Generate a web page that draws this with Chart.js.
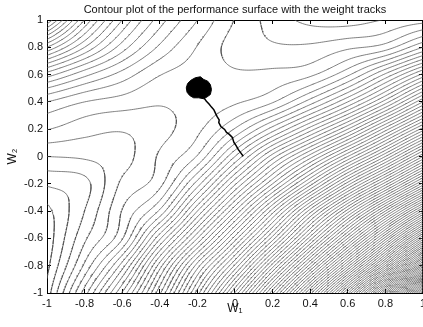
<!DOCTYPE html>
<html>
<head>
<meta charset="utf-8">
<script src="https://cdn.jsdelivr.net/npm/chart.js@4.4.1/dist/chart.umd.min.js"></script>
<style>
  html, body { margin: 0; padding: 0; background: #fff; overflow: hidden; }
</style>
</head>
<body>
<canvas id="surface" width="434" height="327"></canvas>
<script>
// performance surface, one value per grid node
// (counted in contour steps, rows go from w2 = 1 down to w2 = -1)
const w1Nodes = [-1, -0.8, -0.6, -0.4, -0.2, 0, 0.2, 0.4, 0.6, 0.8, 1];
const w2Nodes = [1, 0.8, 0.6, 0.4, 0.2, 0, -0.2, -0.4, -0.6, -0.8, -1];
const surface = [
  [20,    13,    8,    4.5,   2,    -0.05, -1.4,  -2.3,  -2.5, -1.95, -1.5],
  [13,     9,    5.5,  2.8,   0.95, -0.4,  -0.85, -0.8,  -0.2,  0.5,   3],
  [6.5,    4.3,  2.6,  1.05,  0.55,  0.15,  0.3,   0.8,   2.8,  6.2,  10.3],
  [2.0,    1.0,  0.55, 0.1,   0.4,   0.85,  1.9,   4.5,   8,   12.5,  18],
  [0.05,  -0.6, -0.9, -0.33,  0.75,  3.1,   6.5,  10.5,  15,   20.5,  26.5],
  [-2.0,  -1.85,-1.4,  0.15,  2.1,   7,    12.5,  17.5,  23,   29,    36],
  [-3.85, -3.3, -0.8,  0.7,   5.5,  11.8,  18,    24.5,  31.5, 38.5,  46.4],
  [-5.3,  -3.0,  0.05, 3.2,  10,    17,    24.5,  32.5,  40.5, 49,    58.4],
  [-5.6,  -2.2,  0.9,  7.8,  15,    22.5,  30.5,  39.5,  49,   59.5,  71.4],
  [-5.3,  -0.8,  4.5, 12.5,  20.5,  28.2,  37.5,  47.5,  58.5, 71,    86.5],
  [-4.6,   1.5,  8.1, 15.8,  24.5,  34.1,  44.8,  56.5,  69.7, 85.5, 105]
];
const levelLow = -5;
const levelHigh = 105;

// weight track, start at the lower right end
const trackW1 = [0.044, 0.030, 0.018, 0.006, -0.006, -0.014, -0.030, -0.045, -0.055, -0.075,
                 -0.086, -0.084, -0.095, -0.104, -0.112, -0.125, -0.138, -0.152, -0.163, -0.168];
const trackW2 = [0.002, 0.028, 0.050, 0.080, 0.105, 0.140, 0.162, 0.176, 0.198, 0.220,
                 0.248, 0.268, 0.292, 0.318, 0.342, 0.362, 0.385, 0.405, 0.425, 0.445];

// outline of the cloud where the weights keep jumping around
const blobW1 = [-0.211, -0.184, -0.166, -0.145, -0.131, -0.125, -0.131, -0.148,
                -0.166, -0.193, -0.220, -0.241, -0.255, -0.259, -0.252, -0.234];
const blobW2 = [0.577, 0.584, 0.564, 0.552, 0.527, 0.491, 0.454, 0.437,
                0.423, 0.430, 0.430, 0.447, 0.471, 0.503, 0.535, 0.559];

const tickValues = [-1, -0.8, -0.6, -0.4, -0.2, 0, 0.2, 0.4, 0.6, 0.8, 1];

// ---- smooth the node values (catmull-rom) and trace the levels ----
const nR = surface.length - 1, nC = surface[0].length - 1;
function node(r, c) {
  if (r < 0) return 2 * node(0, c) - node(1, c);
  if (r > nR) return 2 * node(nR, c) - node(nR - 1, c);
  if (c < 0) return 2 * node(r, 0) - node(r, 1);
  if (c > nC) return 2 * node(r, nC) - node(r, nC - 1);
  return surface[r][c];
}
function cr(p0, p1, p2, p3, t) {
  return 0.5 * (2 * p1 + (p2 - p0) * t + (2 * p0 - 5 * p1 + 4 * p2 - p3) * t * t +
                (3 * p1 - p0 - 3 * p2 + p3) * t * t * t);
}
function sampleZ(gx, gy) {
  const c = Math.min(Math.floor(gx), nC - 1), r = Math.min(Math.floor(gy), nR - 1);
  const tx = gx - c, ty = gy - r;
  const col = [];
  for (let k = -1; k <= 2; k++) {
    col.push(cr(node(r + k, c - 1), node(r + k, c), node(r + k, c + 1), node(r + k, c + 2), tx));
  }
  return cr(col[0], col[1], col[2], col[3], ty);
}

const N = 200;
const xs = [], ys = [], Z = [];
for (let i = 0; i <= N; i++) {
  xs.push(w1Nodes[0] + (w1Nodes[nC] - w1Nodes[0]) * i / N);
  ys.push(w2Nodes[0] + (w2Nodes[nR] - w2Nodes[0]) * i / N);
}
for (let j = 0; j <= N; j++) {
  const row = [];
  for (let i = 0; i <= N; i++) row.push(sampleZ(i * nC / N, j * nR / N));
  Z.push(row);
}

const contourPts = [];
const gap = {x: NaN, y: NaN};
function cut(p, q, va, vb, L) { return p + (q - p) * (L - va) / (vb - va); }
for (let j = 0; j < N; j++) {
  for (let i = 0; i < N; i++) {
    const a = Z[j][i], b = Z[j][i + 1], c = Z[j + 1][i + 1], d = Z[j + 1][i];
    const lo = Math.min(a, b, c, d), hi = Math.max(a, b, c, d);
    const x0 = xs[i], x1 = xs[i + 1], y0 = ys[j], y1 = ys[j + 1];
    for (let L = Math.max(Math.ceil(lo), levelLow); L <= Math.min(hi, levelHigh); L++) {
      const p = [];
      if ((a >= L) !== (b >= L)) p.push({x: cut(x0, x1, a, b, L), y: y0});
      if ((b >= L) !== (c >= L)) p.push({x: x1, y: cut(y0, y1, b, c, L)});
      if ((d >= L) !== (c >= L)) p.push({x: cut(x0, x1, d, c, L), y: y1});
      if ((a >= L) !== (d >= L)) p.push({x: x0, y: cut(y0, y1, a, d, L)});
      if (p.length === 2) {
        contourPts.push(p[0], p[1], gap);
      } else if (p.length === 4) {
        const mid = (a + b + c + d) / 4;
        if ((mid >= L) === (a >= L)) contourPts.push(p[0], p[1], gap, p[2], p[3], gap);
        else contourPts.push(p[0], p[3], gap, p[1], p[2], gap);
      }
    }
  }
}

const trackPts = trackW1.map((w, k) => ({x: w, y: trackW2[k]}));
const blobPts = blobW1.map((w, k) => ({x: w, y: blobW2[k]}));
blobPts.push(blobPts[0]);

const fontName = "'Liberation Sans', Arial, sans-serif";
const fixedTicks = scale => { scale.ticks = tickValues.map(v => ({value: v})); };
const label = v => String(Math.round(v * 10) / 10);
const tickGrid = {drawOnChartArea: false, tickLength: -4, color: '#000'};
const frame = {display: true, color: '#000', width: 1};

new Chart(document.getElementById('surface'), {
  type: 'scatter',
  data: {
    datasets: [
      {
        label: 'settled weights',
        data: blobPts,
        showLine: true,
        fill: 'shape',
        backgroundColor: '#000',
        borderColor: '#000',
        borderWidth: 1,
        pointRadius: 0
      },
      {
        label: 'weight track',
        data: trackPts,
        showLine: true,
        borderColor: '#000',
        borderWidth: 1.5,
        pointRadius: 0
      },
      {
        label: 'contours',
        data: contourPts,
        showLine: true,
        spanGaps: false,
        borderColor: '#4a4a4a',
        borderWidth: 0.7,
        pointRadius: 0
      }
    ]
  },
  options: {
    responsive: false,
    animation: false,
    devicePixelRatio: 1,
    layout: {padding: 0},
    plugins: {legend: {display: false}, tooltip: {enabled: false}},
    scales: {
      x: {
        type: 'linear', position: 'bottom', min: -1, max: 1,
        afterBuildTicks: fixedTicks,
        afterFit: s => { s.height = 34; },
        ticks: {callback: label, color: '#111', padding: 8, maxRotation: 0, autoSkip: false,
                font: {family: fontName, size: 11}},
        grid: tickGrid, border: frame,
        title: {display: true, text: 'W\u2081', color: '#111',
                font: {family: fontName, size: 12}, padding: {top: 0, bottom: 11}}
      },
      xTop: {
        type: 'linear', position: 'top', min: -1, max: 1,
        afterBuildTicks: fixedTicks,
        afterFit: s => { s.height = 20; },
        ticks: {display: false},
        grid: tickGrid, border: frame,
        title: {display: true, text: 'Contour plot of the performance surface with the weight tracks',
                color: '#111', font: {family: fontName, size: 11}, padding: {top: 3, bottom: 0}}
      },
      y: {
        type: 'linear', position: 'left', min: -1, max: 1,
        afterBuildTicks: fixedTicks,
        afterFit: s => { s.width = 47; },
        ticks: {callback: label, color: '#111', padding: 8, autoSkip: false,
                font: {family: fontName, size: 11}},
        grid: tickGrid, border: frame,
        title: {display: true, text: 'W\u2082', color: '#111',
                font: {family: fontName, size: 12}, padding: {top: 5, bottom: 0}}
      },
      yRight: {
        type: 'linear', position: 'right', min: -1, max: 1,
        afterBuildTicks: fixedTicks,
        afterFit: s => { s.width = 4; },
        ticks: {display: false},
        grid: tickGrid, border: frame
      }
    }
  }
});
</script>
</body>
</html>
